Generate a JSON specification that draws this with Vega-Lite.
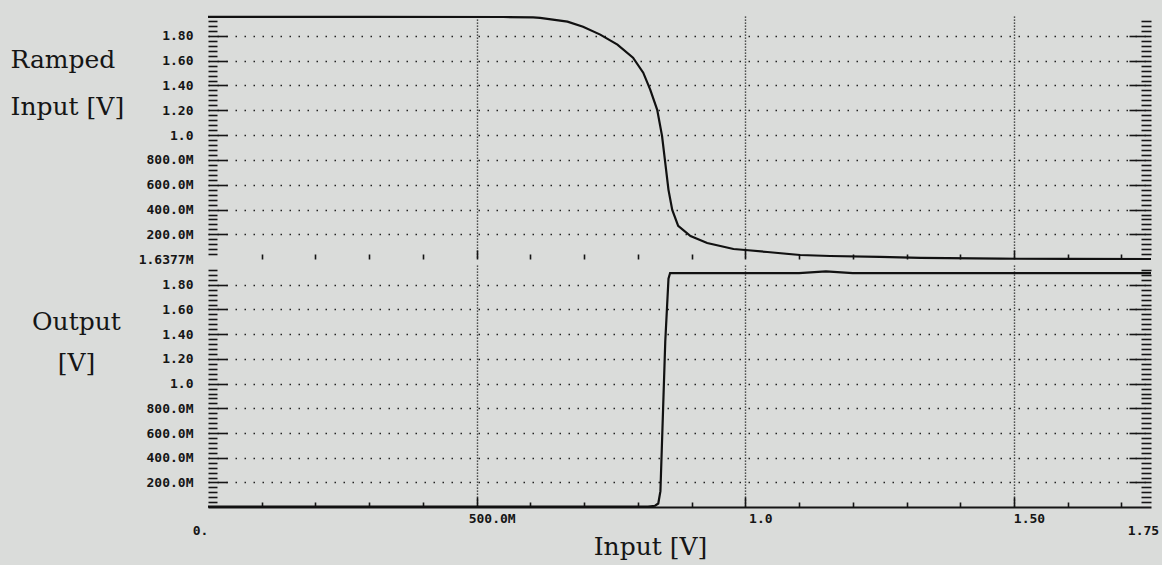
{
  "$schema": "https://vega.github.io/schema/vega-lite/v6.json",
  "background": "#dadcda",
  "padding": {"left": 10, "top": 12, "right": 10, "bottom": 10},
  "config": {
    "view": {"stroke": null},
    "axis": {
      "labelFont": "DejaVu Sans Mono",
      "labelFontSize": 13,
      "labelFontWeight": "bold",
      "labelColor": "#151515",
      "tickColor": "#151515",
      "tickWidth": 1.6,
      "titleFont": "DejaVu Serif",
      "titleFontSize": 25,
      "titleFontWeight": "normal",
      "titleColor": "#151515",
      "labelOverlap": false,
      "labelFlush": false,
      "labelBound": false
    }
  },
  "datasets": {
    "input": [
      {"x": 0, "v": 1.953}, {"x": 0.3, "v": 1.953}, {"x": 0.55, "v": 1.952}, {"x": 0.605, "v": 1.949},
      {"x": 0.618, "v": 1.945}, {"x": 0.669, "v": 1.915}, {"x": 0.698, "v": 1.874}, {"x": 0.73, "v": 1.81},
      {"x": 0.762, "v": 1.729}, {"x": 0.791, "v": 1.624}, {"x": 0.81, "v": 1.503}, {"x": 0.823, "v": 1.366},
      {"x": 0.836, "v": 1.204}, {"x": 0.845, "v": 0.994}, {"x": 0.851, "v": 0.777}, {"x": 0.857, "v": 0.559},
      {"x": 0.864, "v": 0.397}, {"x": 0.875, "v": 0.268}, {"x": 0.898, "v": 0.187}, {"x": 0.929, "v": 0.131},
      {"x": 0.978, "v": 0.082}, {"x": 1.0, "v": 0.074}, {"x": 1.041, "v": 0.058}, {"x": 1.102, "v": 0.034},
      {"x": 1.158, "v": 0.026}, {"x": 1.25, "v": 0.018}, {"x": 1.326, "v": 0.01}, {"x": 1.475, "v": 0.004},
      {"x": 1.6, "v": 0.0025}, {"x": 1.755, "v": 0.0017}
    ],
    "output": [
      {"x": 0, "v": 0.004}, {"x": 0.5, "v": 0.004}, {"x": 0.819, "v": 0.004}, {"x": 0.832, "v": 0.012},
      {"x": 0.838, "v": 0.03}, {"x": 0.842, "v": 0.13}, {"x": 0.847, "v": 0.8}, {"x": 0.851, "v": 1.34},
      {"x": 0.857, "v": 1.85}, {"x": 0.86, "v": 1.895}, {"x": 1.1, "v": 1.895}, {"x": 1.15, "v": 1.908},
      {"x": 1.2, "v": 1.895}, {"x": 1.755, "v": 1.895}
    ]
  },
  "vconcat": [
    {
      "width": 943,
      "height": 243,
      "layer": [
        {
          "data": {"name": "input"},
          "mark": {"type": "line", "color": "#111111", "strokeWidth": 2.2},
          "encoding": {
            "x": {
              "field": "x", "type": "quantitative",
              "scale": {"domain": [0, 1.755], "nice": false, "zero": false},
              "axis": {
                "orient": "bottom",
                "values": [0.1, 0.2, 0.3, 0.4, 0.5, 0.6, 0.7, 0.8, 0.9, 1.0, 1.1, 1.2, 1.3, 1.4, 1.5, 1.6, 1.7],
                "labels": false,
                "domain": false,
                "title": null,
                "tickSize": {"condition": {"test": "abs(datum.value*2 - round(datum.value*2)) < 0.001", "value": -9}, "value": -5},
                "grid": true,
                "gridOpacity": {"condition": {"test": "abs(datum.value*2 - round(datum.value*2)) < 0.001", "value": 1}, "value": 0},
                "gridDash": [1.2, 1.8],
                "gridColor": "#222222",
                "gridWidth": 1.4
              }
            },
            "y": {
              "field": "v", "type": "quantitative",
              "scale": {"domain": [0.0016377, 1.96], "nice": false, "zero": false},
              "axis": {
                "orient": "left",
                "values": [0.0016377, 0.04, 0.08, 0.12, 0.16, 0.2, 0.24, 0.28, 0.32, 0.36, 0.4, 0.44, 0.48, 0.52, 0.56, 0.6, 0.64, 0.68, 0.72, 0.76, 0.8, 0.84, 0.88, 0.92, 0.96, 1, 1.04, 1.08, 1.12, 1.16, 1.2, 1.24, 1.28, 1.32, 1.36, 1.4, 1.44, 1.48, 1.52, 1.56, 1.6, 1.64, 1.68, 1.72, 1.76, 1.8, 1.84, 1.88, 1.92],
                "domain": false,
                "title": ["Ramped", "Input [V]"],
                "titleAngle": 0,
                "titleAlign": "left",
                "titleBaseline": "alphabetic",
                "titleX": -198,
                "titleY": 51,
                "titleLineHeight": 47,
                "tickSize": {"condition": {"test": "datum.value < 0.01 || abs(datum.value*5 - round(datum.value*5)) < 0.001", "value": -19}, "value": -9},
                "tickOpacity": {"condition": {"test": "datum.value < 0.01", "value": 0}, "value": 1},
                "grid": true,
                "gridOpacity": {"condition": {"test": "datum.value > 0.1 && abs(datum.value*5 - round(datum.value*5)) < 0.001", "value": 1}, "value": 0},
                "gridDash": [1.5, 7.5],
                "gridColor": "#222222",
                "gridWidth": 1.6,
                "labelPadding": 34,
                "labelExpr": "datum.value < 0.01 ? '1.6377M' : (abs(datum.value*5 - round(datum.value*5)) < 0.001 ? (datum.value < 0.99 ? format(datum.value*1000, '.1f') + 'M' : (abs(datum.value - 1) < 0.001 ? '1.0' : format(datum.value, '.2f'))) : '')"
              }
            }
          }
        },
        {
          "data": {"name": "input"},
          "mark": {"type": "line", "strokeOpacity": 0},
          "encoding": {
            "x": {"field": "x", "type": "quantitative"},
            "y": {
              "field": "v", "type": "quantitative",
              "axis": {
                "orient": "right",
                "values": [0.04, 0.08, 0.12, 0.16, 0.2, 0.24, 0.28, 0.32, 0.36, 0.4, 0.44, 0.48, 0.52, 0.56, 0.6, 0.64, 0.68, 0.72, 0.76, 0.8, 0.84, 0.88, 0.92, 0.96, 1, 1.04, 1.08, 1.12, 1.16, 1.2, 1.24, 1.28, 1.32, 1.36, 1.4, 1.44, 1.48, 1.52, 1.56, 1.6, 1.64, 1.68, 1.72, 1.76, 1.8, 1.84, 1.88, 1.92],
                "domain": false,
                "labels": false,
                "title": null,
                "grid": false,
                "tickSize": {"condition": {"test": "abs(datum.value*5 - round(datum.value*5)) < 0.001", "value": -22}, "value": -10}
              }
            }
          }
        }
      ],
      "resolve": {"axis": {"y": "independent"}}
    },
    {
      "width": 943,
      "height": 242,
      "layer": [
        {
          "data": {"name": "output"},
          "mark": {"type": "line", "color": "#111111", "strokeWidth": 2.2},
          "encoding": {
            "x": {
              "field": "x", "type": "quantitative",
              "scale": {"domain": [0, 1.755], "nice": false, "zero": false},
              "axis": {
                "orient": "bottom",
                "values": [0, 0.1, 0.2, 0.3, 0.4, 0.5, 0.6, 0.7, 0.8, 0.9, 1.0, 1.1, 1.2, 1.3, 1.4, 1.5, 1.6, 1.7, 1.755],
                "domain": true,
                "domainColor": "#151515",
                "domainWidth": 2,
                "tickSize": {"condition": {"test": "datum.value > 1.75 || abs(datum.value*2 - round(datum.value*2)) < 0.001", "value": -10}, "value": -5},
                "tickOpacity": {"condition": {"test": "datum.value < 0.01 || datum.value > 1.75", "value": 0}, "value": 1},
                "grid": true,
                "gridOpacity": {"condition": {"test": "datum.value > 0.01 && datum.value < 1.75 && abs(datum.value*2 - round(datum.value*2)) < 0.001", "value": 1}, "value": 0},
                "gridDash": [1.2, 1.8],
                "gridColor": "#222222",
                "gridWidth": 1.4,
                "labelExpr": "datum.value < 0.01 ? '0.' : (abs(datum.value - 0.5) < 0.001 ? '500.0M' : (abs(datum.value - 1) < 0.001 ? '1.0' : (abs(datum.value - 1.5) < 0.001 ? '1.50' : (datum.value > 1.75 ? '1.75' : ''))))",
                "labelAlign": "center",
                "labelBaseline": "top",
                "labelOffset": {"condition": {"test": "datum.value < 0.01 || datum.value > 1.75", "value": -8}, "value": 15},
                "labelPadding": {"condition": {"test": "datum.value < 0.01 || datum.value > 1.75", "value": 27}, "value": 15},
                "title": "Input [V]",
                "titleX": 442,
                "titleY": 47,
                "titleAlign": "center",
                "titleBaseline": "alphabetic"
              }
            },
            "y": {
              "field": "v", "type": "quantitative",
              "scale": {"domain": [0.0016377, 1.96], "nice": false, "zero": false},
              "axis": {
                "orient": "left",
                "values": [0.04, 0.08, 0.12, 0.16, 0.2, 0.24, 0.28, 0.32, 0.36, 0.4, 0.44, 0.48, 0.52, 0.56, 0.6, 0.64, 0.68, 0.72, 0.76, 0.8, 0.84, 0.88, 0.92, 0.96, 1, 1.04, 1.08, 1.12, 1.16, 1.2, 1.24, 1.28, 1.32, 1.36, 1.4, 1.44, 1.48, 1.52, 1.56, 1.6, 1.64, 1.68, 1.72, 1.76, 1.8, 1.84, 1.88, 1.92],
                "domain": false,
                "title": ["Output", "[V]"],
                "titleAngle": 0,
                "titleAlign": "center",
                "titleBaseline": "alphabetic",
                "titleX": -132,
                "titleY": 64,
                "titleLineHeight": 41,
                "tickSize": {"condition": {"test": "abs(datum.value*5 - round(datum.value*5)) < 0.001", "value": -19}, "value": -9},
                "grid": true,
                "gridOpacity": {"condition": {"test": "abs(datum.value*5 - round(datum.value*5)) < 0.001", "value": 1}, "value": 0},
                "gridDash": [1.5, 7.5],
                "gridColor": "#222222",
                "gridWidth": 1.6,
                "labelPadding": 34,
                "labelExpr": "abs(datum.value*5 - round(datum.value*5)) < 0.001 ? (datum.value < 0.99 ? format(datum.value*1000, '.1f') + 'M' : (abs(datum.value - 1) < 0.001 ? '1.0' : format(datum.value, '.2f'))) : ''"
              }
            }
          }
        },
        {
          "data": {"name": "output"},
          "mark": {"type": "line", "strokeOpacity": 0},
          "encoding": {
            "x": {"field": "x", "type": "quantitative"},
            "y": {
              "field": "v", "type": "quantitative",
              "axis": {
                "orient": "right",
                "values": [0.04, 0.08, 0.12, 0.16, 0.2, 0.24, 0.28, 0.32, 0.36, 0.4, 0.44, 0.48, 0.52, 0.56, 0.6, 0.64, 0.68, 0.72, 0.76, 0.8, 0.84, 0.88, 0.92, 0.96, 1, 1.04, 1.08, 1.12, 1.16, 1.2, 1.24, 1.28, 1.32, 1.36, 1.4, 1.44, 1.48, 1.52, 1.56, 1.6, 1.64, 1.68, 1.72, 1.76, 1.8, 1.84, 1.88, 1.92],
                "domain": false,
                "labels": false,
                "title": null,
                "grid": false,
                "tickSize": {"condition": {"test": "abs(datum.value*5 - round(datum.value*5)) < 0.001", "value": -22}, "value": -10}
              }
            }
          }
        }
      ],
      "resolve": {"axis": {"y": "independent"}}
    }
  ],
  "spacing": 6,
  "bounds": "flush"
}
